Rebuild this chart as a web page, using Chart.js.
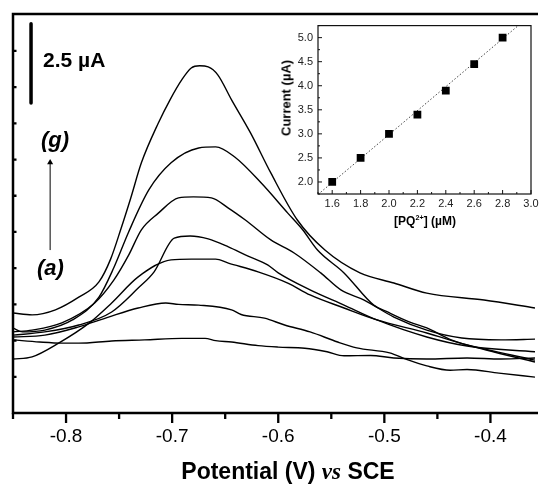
<!DOCTYPE html>
<html>
<head>
<meta charset="utf-8">
<script src="https://cdn.jsdelivr.net/npm/chart.js@4.4.1/dist/chart.umd.min.js"></script>
<style>
  html, body { margin: 0; padding: 0; background: #fff; overflow: hidden; }
  #wrap { position: relative; width: 539px; height: 484px; }
  #main { position: absolute; left: 0; top: 0; }
  #inset { position: absolute; left: 272px; top: 14px; }
  .lbl { position: absolute; font-family: "Liberation Sans", Arial, sans-serif; font-weight: bold; color: #000; white-space: nowrap; line-height: 1; }
  .vs { font-family: "Liberation Serif", "Times New Roman", serif; font-style: italic; }
  sup { font-size: 0.6em; vertical-align: 0.7em; line-height: 0; }
</style>
</head>
<body>
<div id="wrap">
  <canvas id="main" width="539" height="484"></canvas>
  <canvas id="inset" width="280" height="230"></canvas>
  <div class="lbl" style="left:43px; top:49px; font-size:21px;">2.5 µA</div>
  <div class="lbl" style="left:41px; top:129px; font-size:22px; font-style:italic;">(g)</div>
  <div class="lbl" style="left:37px; top:257px; font-size:22px; font-style:italic;">(a)</div>
  <div class="lbl" style="left:288px; top:460px; font-size:23px; transform:translateX(-50%);">Potential (V) <span class="vs">vs</span> SCE</div>
  <div class="lbl" style="left:425px; top:215px; font-size:12px; transform:translateX(-50%);">[PQ<sup>2+</sup>] (µM)</div>
  <div class="lbl" style="left:286px; top:98px; font-size:13px; transform:translate(-50%,-50%) rotate(-90deg);">Current (µA)</div>
</div>
<script>
// curvas (a) a (g): potencial (V vs SCE) y corriente (unidades de la escala del eje)
const potA = [-0.85, -0.825, -0.804, -0.788, -0.757, -0.726, -0.691, -0.669, -0.659, -0.644, -0.619, -0.600, -0.575, -0.554, -0.538, -0.513, -0.491, -0.460, -0.422, -0.390, -0.358];
const curA = [2.02, 1.96, 1.93, 1.93, 1.99, 2.02, 2.06, 2.06, 2.00, 1.96, 1.86, 1.82, 1.79, 1.69, 1.58, 1.59, 1.52, 1.49, 1.52, 1.49, 1.52];

const potB = [-0.85, -0.820, -0.788, -0.760, -0.732, -0.706, -0.694, -0.675, -0.644, -0.635, -0.613, -0.594, -0.570, -0.544, -0.526, -0.495, -0.479, -0.460, -0.438, -0.422, -0.392, -0.358];
const curB = [2.10, 2.15, 2.38, 2.65, 2.90, 3.04, 3.00, 2.98, 2.85, 2.72, 2.62, 2.43, 2.24, 1.96, 1.80, 1.66, 1.48, 1.30, 1.18, 1.20, 1.10, 0.99];

const potC = [-0.85, -0.832, -0.807, -0.778, -0.757, -0.732, -0.701, -0.682, -0.659, -0.647, -0.619, -0.591, -0.570, -0.538, -0.507, -0.460, -0.422, -0.358];
const curC = [1.49, 1.55, 1.93, 2.49, 3.04, 3.76, 4.23, 4.25, 4.25, 4.14, 3.90, 3.59, 3.26, 2.90, 2.57, 2.21, 1.88, 1.46];

const potD = [-0.85, -0.820, -0.788, -0.757, -0.732, -0.717, -0.698, -0.683, -0.666, -0.647, -0.629, -0.610, -0.600, -0.570, -0.538, -0.507, -0.460, -0.422, -0.358];
const curD = [2.15, 2.24, 2.43, 2.79, 3.45, 3.90, 4.83, 4.89, 4.81, 4.59, 4.34, 4.09, 3.87, 3.40, 2.98, 2.57, 2.10, 1.85, 1.69];

const potE = [-0.85, -0.832, -0.804, -0.773, -0.755, -0.741, -0.729, -0.713, -0.694, -0.680, -0.663, -0.647, -0.631, -0.607, -0.585, -0.560, -0.541, -0.519, -0.491, -0.460, -0.427, -0.390, -0.358];
const curE = [2.24, 2.29, 2.49, 3.04, 3.67, 4.36, 5.06, 5.52, 5.94, 5.97, 5.94, 5.66, 5.33, 4.78, 4.42, 3.87, 3.40, 3.12, 2.65, 2.29, 2.07, 2.02, 2.04];

const potF = [-0.85, -0.841, -0.820, -0.794, -0.769, -0.755, -0.741, -0.722, -0.701, -0.675, -0.659, -0.641, -0.616, -0.591, -0.577, -0.563, -0.538, -0.510, -0.497, -0.476, -0.460, -0.437, -0.404, -0.358];
const curF = [2.35, 2.24, 2.29, 2.57, 3.20, 4.01, 5.00, 6.16, 6.91, 7.32, 7.35, 7.07, 6.35, 5.52, 5.06, 4.50, 3.87, 2.98, 2.79, 2.51, 2.35, 2.02, 1.74, 1.41];

const potG = [-0.85, -0.832, -0.810, -0.788, -0.769, -0.758, -0.748, -0.739, -0.729, -0.713, -0.702, -0.691, -0.682, -0.674, -0.666, -0.657, -0.644, -0.626, -0.607, -0.582, -0.556, -0.523, -0.491, -0.460, -0.406, -0.358];
const curG = [2.76, 2.71, 2.85, 3.20, 3.62, 4.25, 5.11, 5.94, 6.91, 8.01, 8.65, 9.20, 9.53, 9.59, 9.56, 9.34, 8.65, 7.73, 6.63, 5.33, 4.50, 3.87, 3.59, 3.31, 3.12, 2.90];

// barra de escala (2.5 uA) y flecha de (a) a (g)
const barX = [-0.833, -0.833];
const barY = [8.56, 10.75];
const arrowX = [-0.815, -0.815];
const arrowY = [4.50, 6.92];

// ticks del grafico principal
const xMajorTicks = [-0.8, -0.7, -0.6, -0.5, -0.4];
const xMinorTicks = [-0.85, -0.75, -0.65, -0.55, -0.45];
const yTicks = [1, 2, 3, 4, 5, 6, 7, 8, 9, 10];

// inset: corriente de pico vs concentracion
const conc = [1.6, 1.8, 2.0, 2.2, 2.4, 2.6, 2.8];
const peakCurrent = [2.0, 2.5, 3.0, 3.4, 3.9, 4.45, 5.0];
const fitX = [1.5, 2.91];
const fitY = [1.74, 5.25];
const insetXMajor = [1.6, 1.8, 2.0, 2.2, 2.4, 2.6, 2.8, 3.0];
const insetXMinor = [1.5, 1.7, 1.9, 2.1, 2.3, 2.5, 2.7, 2.9];
const insetYMajor = [2.0, 2.5, 3.0, 3.5, 4.0, 4.5, 5.0];
const insetYMinor = [1.75, 2.25, 2.75, 3.25, 3.75, 4.25, 4.75, 5.25];

const FONT = '"Liberation Sans", Arial, sans-serif';

function pts(xs, ys) {
    return xs.map((v, i) => ({ x: v, y: ys[i] }));
}

function curva(xs, ys) {
    return {
        data: pts(xs, ys),
        borderColor: '#000',
        borderWidth: 1.4,
        pointRadius: 0,
        fill: false,
        cubicInterpolationMode: 'monotone'
    };
}

function esMultiplo(v, paso) {
    const q = v / paso;
    return Math.abs(q - Math.round(q)) < 1e-6;
}

// marco y ticks del grafico principal
const marcoMain = {
    id: 'marcoMain',
    afterDatasetsDraw(chart) {
        const ctx = chart.ctx;
        const a = chart.chartArea;
        const x = chart.scales.x;
        const y = chart.scales.y;
        ctx.save();
        ctx.strokeStyle = '#000';
        ctx.lineWidth = 2.5;
        ctx.beginPath();
        ctx.moveTo(a.left, a.bottom);
        ctx.lineTo(a.right + 3, a.bottom);
        ctx.moveTo(a.left, a.bottom + 1.25);
        ctx.lineTo(a.left, a.top);
        ctx.lineTo(a.right + 3, a.top);
        ctx.stroke();
        ctx.lineWidth = 2.3;
        ctx.beginPath();
        xMajorTicks.forEach(v => {
            const px = x.getPixelForValue(v);
            ctx.moveTo(px, a.bottom);
            ctx.lineTo(px, a.bottom + 10);
        });
        xMinorTicks.forEach(v => {
            const px = x.getPixelForValue(v);
            ctx.moveTo(px, a.bottom);
            ctx.lineTo(px, a.bottom + 6);
        });
        yTicks.forEach(v => {
            const py = y.getPixelForValue(v);
            ctx.moveTo(a.left, py);
            ctx.lineTo(a.left + 3.5, py);
        });
        ctx.stroke();
        ctx.restore();
    }
};

// marco y ticks del inset
const marcoInset = {
    id: 'marcoInset',
    afterDatasetsDraw(chart) {
        const ctx = chart.ctx;
        const a = chart.chartArea;
        const x = chart.scales.x;
        const y = chart.scales.y;
        ctx.save();
        ctx.strokeStyle = '#111';
        ctx.lineWidth = 1.2;
        ctx.strokeRect(a.left, a.top, a.right - a.left, a.bottom - a.top);
        ctx.lineWidth = 1;
        ctx.beginPath();
        insetXMajor.forEach(v => {
            const px = x.getPixelForValue(v);
            ctx.moveTo(px, a.bottom);
            ctx.lineTo(px, a.bottom - 4);
        });
        insetXMinor.forEach(v => {
            const px = x.getPixelForValue(v);
            ctx.moveTo(px, a.bottom);
            ctx.lineTo(px, a.bottom - 2);
        });
        insetYMajor.forEach(v => {
            const py = y.getPixelForValue(v);
            ctx.moveTo(a.left, py);
            ctx.lineTo(a.left + 4, py);
        });
        insetYMinor.forEach(v => {
            const py = y.getPixelForValue(v);
            ctx.moveTo(a.left, py);
            ctx.lineTo(a.left + 2, py);
        });
        ctx.stroke();
        ctx.restore();
    }
};

new Chart(document.getElementById('main'), {
    type: 'line',
    data: {
        datasets: [
            curva(potA, curA), curva(potB, curB), curva(potC, curC), curva(potD, curD),
            curva(potE, curE), curva(potF, curF), curva(potG, curG),
            {
                data: pts(barX, barY),
                borderColor: '#000',
                borderWidth: 3.5,
                borderCapStyle: 'round',
                pointRadius: 0
            },
            {
                data: pts(arrowX, arrowY),
                borderColor: '#000',
                backgroundColor: '#000',
                borderWidth: 1,
                pointStyle: 'triangle',
                pointRadius: [0, 3.5],
                pointBorderWidth: 0
            }
        ]
    },
    options: {
        responsive: false,
        animation: false,
        layout: { padding: { left: 13, top: 14, right: 0, bottom: 0 } },
        plugins: { legend: { display: false }, tooltip: { enabled: false } },
        scales: {
            x: {
                type: 'linear',
                min: -0.85,
                max: -0.358,
                grid: { display: false, drawTicks: false },
                border: { display: false },
                afterFit: s => { s.height = 71; },
                ticks: {
                    stepSize: 0.05,
                    includeBounds: false,
                    autoSkip: false,
                    maxRotation: 0,
                    padding: 12,
                    color: '#000',
                    font: { family: FONT, size: 19 },
                    callback: v => esMultiplo(v, 0.1) ? v.toFixed(1) : null
                }
            },
            y: {
                display: false,
                min: 0,
                max: 11.02
            }
        }
    },
    plugins: [marcoMain]
});

new Chart(document.getElementById('inset'), {
    type: 'line',
    data: {
        datasets: [
            {
                data: pts(conc, peakCurrent),
                showLine: false,
                pointStyle: 'rect',
                pointRadius: 5.5,
                backgroundColor: '#000',
                borderColor: '#000',
                pointBorderWidth: 0
            },
            {
                data: pts(fitX, fitY),
                borderColor: '#444',
                borderWidth: 1,
                borderDash: [1.5, 2],
                pointRadius: 0
            }
        ]
    },
    options: {
        responsive: false,
        animation: false,
        layout: { padding: { left: 0, top: 10, right: 21, bottom: 0 } },
        plugins: { legend: { display: false }, tooltip: { enabled: false } },
        scales: {
            x: {
                type: 'linear',
                min: 1.5,
                max: 3.0,
                grid: { display: false, drawTicks: false },
                border: { display: false },
                afterFit: s => { s.height = 50; },
                ticks: {
                    stepSize: 0.1,
                    autoSkip: false,
                    maxRotation: 0,
                    padding: 3,
                    color: '#222',
                    font: { family: FONT, size: 11 },
                    callback: v => esMultiplo(v, 0.2) ? v.toFixed(1) : null
                }
            },
            y: {
                min: 1.75,
                max: 5.25,
                grid: { display: false, drawTicks: false },
                border: { display: false },
                afterFit: s => { s.width = 46; },
                ticks: {
                    stepSize: 0.25,
                    autoSkip: false,
                    padding: 5,
                    color: '#222',
                    font: { family: FONT, size: 11 },
                    callback: v => esMultiplo(v, 0.5) ? v.toFixed(1) : null
                }
            }
        }
    },
    plugins: [marcoInset]
});
</script>
</body>
</html>
